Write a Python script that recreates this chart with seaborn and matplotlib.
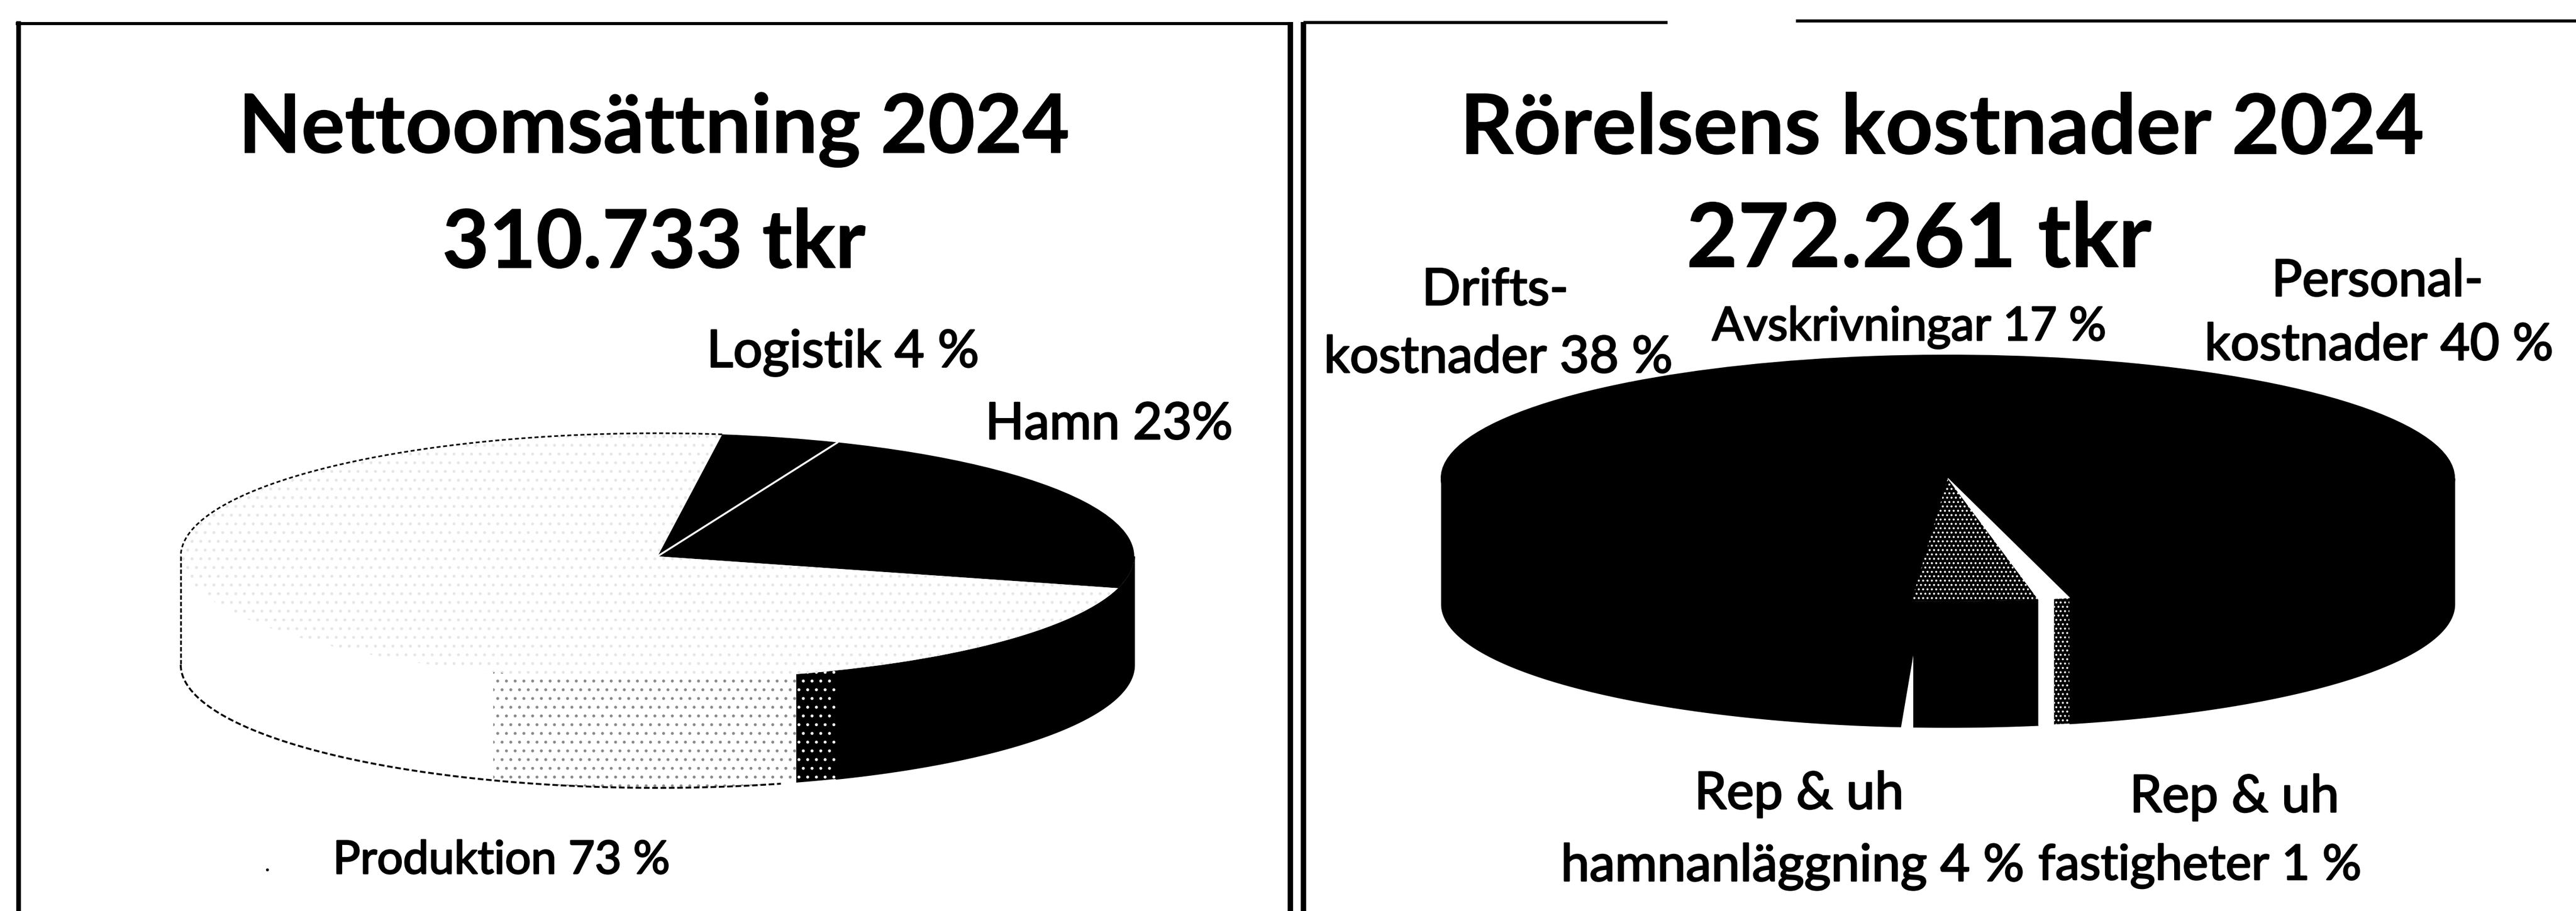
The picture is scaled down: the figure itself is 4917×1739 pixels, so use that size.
import numpy as np
import matplotlib
matplotlib.use("Agg")
import matplotlib.pyplot as plt
import matplotlib.patheffects as pe
import seaborn as sns

# ---- data -------------------------------------------------------------
rev_labels = ["Hamn", "Logistik", "Produktion"]
rev_values = [23, 4, 73]
cost_labels = ["Personalkostnader", "Avskrivningar", "Driftskostnader",
               "Rep & uh hamnanläggning", "Rep & uh fastigheter"]
cost_values = [40, 17, 38, 4, 1]
# shading of the Produktion rim, as shares of the full circle, walking from the left
rim_shares = [19.4, 10.3, 1.4, 13.0]

W, H = 4917, 1739
sns.set_theme(style="white")
plt.rcParams["font.family"] = ["Lato", "DejaVu Sans"]
plt.rcParams["hatch.linewidth"] = 1.6

fig = plt.figure(figsize=(W / 100, H / 100), dpi=100, facecolor="white")
bg = fig.add_axes([0, 0, 1, 1])
bg.set_xlim(0, W); bg.set_ylim(H, 0); bg.axis("off")

# frames
for x0, x1, y0, y1, lw in [(35, 35, 40, H, 6.5), (2463, 2463, 42, H, 7.5), (2488, 2488, 42, H, 7.5),
                           (30, 2468, 45, 45, 4.2), (2488, 3183, 43, 43, 4.2),
                           (3428, W, 40, 40, 4.2)]:
    bg.plot([x0, x1], [y0, y1], color="black", lw=lw, solid_capstyle="butt")
bg.plot([510], [1660], marker="o", ms=3, color="black")


def pie_axes(cx, cy, rx, ry, depth):
    """Axes in which the unit pie maps to the given ellipse on the page."""
    m = 1.3
    d = depth / ry
    left, right = cx - m * rx, cx + m * rx
    top, bottom = cy - m * ry, cy + (m + d) * ry
    ax = fig.add_axes([left / W, 1 - bottom / H, (right - left) / W, (bottom - top) / H])
    ax.patch.set_alpha(0)
    return ax, d, (m, d)


def finish(ax, m, d):
    ax.set_aspect("auto")
    ax.set_xlim(-m, m)
    ax.set_ylim(-m - d, m)
    ax.axis("off")


def rim(ax, a0, a1, d, color, hatch=None, edge=None):
    t = np.radians(np.linspace(a0, a1, 120))
    x, top = np.cos(t), np.sin(t)
    ax.fill_between(x, top, top - d, facecolor=color, edgecolor=edge if edge else color,
                    hatch=hatch, linewidth=0.0 if edge else 1.2, zorder=1)


# ---- left pie ---------------------------------------------------------
ax, d, (m, dd) = pie_axes(1255, 1062, 910, 235, 207)
start = -15
walk = [180 + 3.6 * sum(rim_shares[:i]) for i in range(len(rim_shares) + 1)]
rim(ax, walk[0], walk[1], d, "white")
rim(ax, walk[1], walk[2], d, "white", hatch=".", edge="#8a8a8a")
rim(ax, walk[2], walk[3], d, "black", hatch=".", edge="#ffffff")
rim(ax, walk[3], 360, d, "black")
wedges, _ = ax.pie(rev_values, startangle=start, counterclock=True, radius=1,
                   colors=["black", "black", "white"],
                   wedgeprops=dict(linewidth=0))
for w in wedges:
    w.set_zorder(3)
wedges[2].set(edgecolor="#e6e6e6", hatch=".")
sep = np.radians(start + 3.6 * rev_values[0])
ax.plot([0, np.cos(sep)], [0, np.sin(sep)], color="white", lw=2.6, zorder=4)
prod = np.radians(np.linspace(start + 3.6 * (rev_values[0] + rev_values[1]), 180, 160))
ax.plot(np.cos(prod), np.sin(prod), color="black", lw=2.2, ls=(0, (2.5, 1.6)), zorder=5)
low = np.radians(np.linspace(180, 285, 160))
ax.plot(np.cos(low), np.sin(low) - d, color="black", lw=2.6, ls=(0, (3, 1.4)), zorder=5)
ax.plot([-1, -1], [0, -d], color="black", lw=2.4, ls=(0, (2.5, 1.2)), zorder=5)
finish(ax, m, dd)

# ---- right pie --------------------------------------------------------
ax2, d2, (m2, dd2) = pie_axes(3718, 913, 967, 235, 240)
start2 = -76.1
angles = start2 + 3.6 * np.cumsum([0] + cost_values)
rim(ax2, 180, angles[3], d2, "black")
rim(ax2, angles[3], angles[4], d2, "black")
mid = (angles[4] + angles[5]) / 2
rim(ax2, angles[4], mid, d2, "white")
rim(ax2, mid, angles[5], d2, "black", hatch="..", edge="#ffffff")
rim(ax2, angles[5] - 360, 0, d2, "black")
w2, _ = ax2.pie(cost_values, startangle=start2, counterclock=True, radius=1,
                colors=["black", "black", "black", "black", "white"],
                wedgeprops=dict(linewidth=1.5, edgecolor="black"))
for w in w2:
    w.set_zorder(3)
w2[3].set(edgecolor="white", hatch="..", linewidth=0)
w2[4].set(edgecolor="white", linewidth=1)
gap = np.radians(angles[3])
gx, gy = np.cos(gap), np.sin(gap)
ax2.fill([gx + 0.003, gx + 0.003, gx - 0.022], [gy - 0.43 * d2, gy - d2 - 0.02, gy - d2 - 0.02],
         color="white", zorder=4, lw=0)
finish(ax2, m2, dd2)


# ---- texts ------------------------------------------------------------
def put(x, y, s, size, weight="normal", stroke=2.0):
    bg.text(x, y, s, fontsize=size, fontweight=weight, ha="center", va="center", color="black",
            path_effects=[pe.withStroke(linewidth=stroke, foreground="black")])


put(1248, 248, "Nettoomsättning 2024", 112, "bold", 1.0)
put(1248, 467, "310.733 tkr", 111, "bold", 1.0)
put(3707, 248, "Rörelsens kostnader 2024", 114, "bold", 1.0)
put(3663, 461, "272.261 tkr", 122, "bold", 1.0)
put(1609, 673, "Logistik 4 %", 71)
put(2117, 811, "Hamn 23%", 70)
put(957, 1643, "Produktion 73 %", 63)
put(2854, 555, "Drifts-", 70)
put(2860, 684, "kostnader 38 %", 70)
put(3644, 625, "Avskrivningar 17 %", 64)
put(4538, 538, "Personal-", 70)
put(4541, 660, "kostnader 40 %", 70)
put(3434, 1516, "Rep & uh", 71)
put(3421, 1654, "hamnanläggning 4 %", 70.5)
put(4265, 1522, "Rep & uh", 71)
put(4199, 1654, "fastigheter 1 %", 67)

fig.savefig("out.png", dpi=100, facecolor="white")
